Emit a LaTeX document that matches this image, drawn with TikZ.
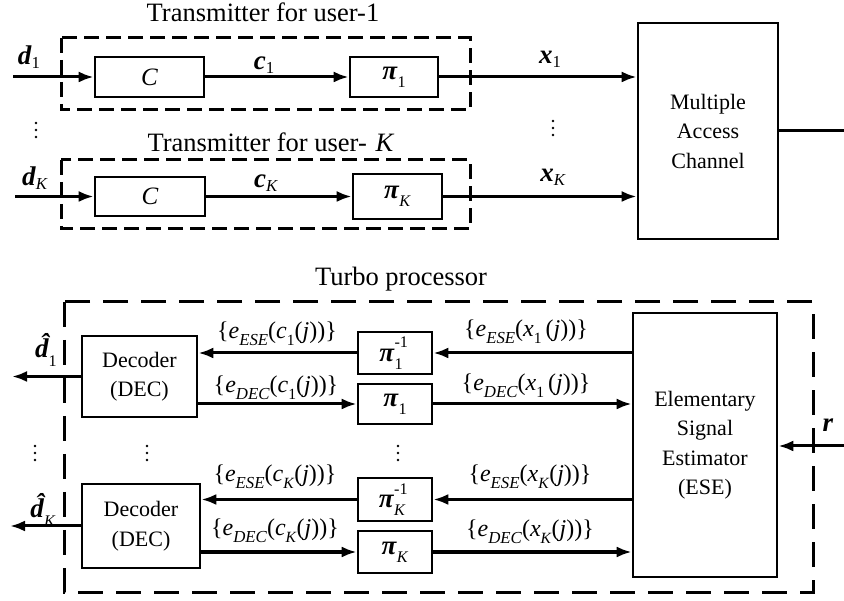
\documentclass[tikz,border=0pt]{standalone}
\usepackage{fontspec}
\setmainfont{Liberation Serif}
\usepackage{graphicx}
\usetikzlibrary{arrows.meta}
\newcommand{\bi}[1]{\textbf{\textit{#1}}}
\newcommand{\lo}[2][0.6]{\raisebox{-0.3em}{\scalebox{#1}{#2}}}
\newcommand{\lb}[1]{\raisebox{-0.12em}{\scalebox{0.62}{#1}}}
\newcommand{\hi}[2][0.6]{\raisebox{0.5em}{\scalebox{#1}{#2}}}
\newcommand{\dhat}{\bi{\makebox[0pt][l]{d}\makebox[0.5em][c]{\hspace{0.2em}\raisebox{0.2em}{ˆ}}}}
\newcommand{\elab}[4]{\{\textit{e}\lo[0.7]{\textit{#1}}(\textit{#2}\lo[0.65]{#3}#4(\textit{j}))\}}
\begin{document}
\begin{tikzpicture}[x=1pt,y=-1pt,
  blk/.style={draw, line width=2.6pt, inner sep=0pt, font=\fontsize{22}{29.5}\selectfont, align=center},
  dboxa/.style={line width=3pt, dash pattern=on 15pt off 7pt},
  dboxb/.style={line width=3pt, dash pattern=on 25pt off 13pt},
  arr/.style={line width=3pt, -{Latex[length=15pt,width=11pt]}},
  ln/.style={line width=3pt},
  lbl/.style={inner sep=0pt, anchor=base, font=\fontsize{27}{30}\selectfont},
  ttl/.style={inner sep=0pt, anchor=base, font=\fontsize{26.5}{30}\selectfont},
  elb/.style={inner sep=0pt, font=\fontsize{24}{28}\selectfont},
  pif/.style={font=\fontsize{27}{30}\selectfont},
  dot/.style={fill, radius=1.4pt},
]
\useasboundingbox (0,0) rectangle (844,601);

% ---------- transmitters ----------
\node[ttl] (t1) at (263,22) {Transmitter for user-1};
\draw[dboxa] (61,38) rectangle (470,110);
\node[blk, minimum width=109pt, minimum height=40pt, font=\fontsize{25}{30}\selectfont] (C1) at (149.5,77) {\textit{C}};
\node[blk, pif, minimum width=88pt, minimum height=40pt] (P1) at (394,77) {\bi{π}\lo{1}};

\node[ttl] (tK) at (271,152) {Transmitter for user-\,\,\textit{K}};
\draw[dboxa] (61,160) rectangle (470,229);
\node[blk, minimum width=110pt, minimum height=39pt, font=\fontsize{25}{30}\selectfont] (CK) at (150,196.5) {\textit{C}};
\node[blk, pif, minimum width=89pt, minimum height=45pt] (PK) at (397.5,196.5) {\bi{π}\lo{\textit{K}}};

\node[blk, minimum width=140pt, minimum height=216pt] (MAC) at (708,131) {Multiple\\Access\\Channel};

\coordinate (d1in) at (13,77);
\coordinate (dKin) at (15,196.5);
\coordinate (macout) at (844,131);

\draw[arr] (d1in) -- (C1.west);
\draw[arr] (C1.east) -- (P1.west);
\draw[arr] (P1.east) -- (P1.east -| MAC.west);
\draw[arr] (dKin) -- (CK.west);
\draw[arr] (CK.east) -- (PK.west);
\draw[arr] (PK.east) -- (PK.east -| MAC.west);
\draw[ln] (MAC.east |- macout) -- (macout);

\node[lbl] (ld1) at (29,65) {\bi{d}\lb{1}};
\node[lbl] (lc1) at (264,70) {\bi{c}\lb{1}};
\node[lbl] (lx1) at (550,64) {\bi{x}\lb{1}};
\node[lbl] (ldK) at (35,186) {\bi{d}\lb{\textit{K}}};
\node[lbl] (lcK) at (266,188) {\bi{c}\lb{\textit{K}}};
\node[lbl] (lxK) at (553,182) {\bi{x}\lb{\textit{K}}};
\foreach \y in {123,130,137} {\fill[dot] (36,\y) circle; \fill[dot] (553,\y-2) circle;}

% ---------- turbo processor ----------
\node[ttl] (tt) at (401,286) {Turbo processor};
\draw[dboxb] (64,302) rectangle (813,592);

\node[blk, minimum width=115pt, minimum height=81pt] (D1) at (139.5,376.5) {Decoder\\(DEC)};
\node[blk, minimum width=118pt, minimum height=84pt] (DK) at (141,526) {Decoder\\(DEC)};
\node[blk, pif, minimum width=74pt, minimum height=42pt] (Q1i) at (395,353) {\bi{π}\rlap{\hi{-1}}\lo{1}\hspace{0.3em}};
\node[blk, pif, minimum width=74pt, minimum height=40pt] (Q1) at (395,404) {\bi{π}\lo{1}};
\node[blk, pif, minimum width=74pt, minimum height=43pt] (QKi) at (395,499.5) {\bi{π}\rlap{\hi{-1}}\lo{\textit{K}}\hspace{0.2em}};
\node[blk, pif, minimum width=74pt, minimum height=42pt] (QK) at (395,552) {\bi{π}\lo{\textit{K}}};
\node[blk, minimum width=144pt, minimum height=264pt] (ESE) at (705,445) {Elementary\\Signal\\Estimator\\(ESE)};

\coordinate (o1) at (12,376.5);
\coordinate (oK) at (10,526);
\coordinate (rin) at (844,446);

\draw[arr] (Q1i.east -| ESE.west) -- (Q1i.east);
\draw[arr] (Q1i.west) -- (Q1i.west -| D1.east);
\draw[arr] (Q1.west -| D1.east) -- (Q1.west);
\draw[arr] (Q1.east) -- (Q1.east -| ESE.west);
\draw[arr] (QKi.east -| ESE.west) -- (QKi.east);
\draw[arr] (QKi.west) -- (QKi.west -| DK.east);
\draw[arr] (QK.west -| DK.east) -- (QK.west);
\draw[arr] (QK.east) -- (QK.east -| ESE.west);
\draw[arr] (D1.west) -- (o1);
\draw[arr] (DK.west) -- (oK);
\draw[arr] (rin) -- (rin -| ESE.east);

\node[lbl] (lo1) at (46,358) {\dhat\lo{1}};
\node[lbl] (loK) at (43,518) {\dhat\lo{\textit{K}}};
\node[lbl] (lr) at (828,432) {\bi{r}};

\node[elb] (e1) at (277,334) {\elab{ESE}{c}{1}{}};
\node[elb] (e2) at (276,388) {\elab{DEC}{c}{1}{}};
\node[elb] (e3) at (526,332) {\elab{ESE}{x}{1}{\,}};
\node[elb] (e4) at (526,386) {\elab{DEC}{x}{1}{\,}};
\node[elb] (e5) at (275,477) {\elab{ESE}{c}{\textit{K}}{}};
\node[elb] (e6) at (275,531) {\elab{DEC}{c}{\textit{K}}{}};
\node[elb] (e7) at (530,477) {\elab{ESE}{x}{\textit{K}}{}};
\node[elb] (e8) at (530,532) {\elab{DEC}{x}{\textit{K}}{}};

\foreach \x in {35,147,398} {\foreach \y in {446,453,460} {\fill[dot] (\x,\y) circle;}}
\end{tikzpicture}
\end{document}
